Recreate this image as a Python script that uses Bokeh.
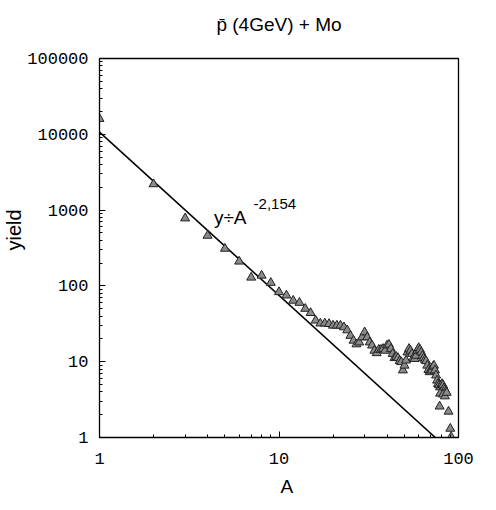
from bokeh.plotting import figure
from bokeh.models import Label, FixedTicker, CustomJSTickFormatter, Range1d, Title
from bokeh.embed import file_html
from bokeh.resources import INLINE

# ---- data ----
mass_A = [1, 2, 3, 4, 5, 6, 7, 8, 9, 10,
          11, 12, 13, 14, 15, 16, 17, 18, 19, 20,
          21, 22, 23, 24, 25, 26, 27, 28, 29, 30,
          31, 32, 33, 34, 35, 36, 37, 38, 39, 40,
          41, 42, 43, 44, 45, 46, 47, 48, 49, 50,
          51, 52, 53, 54, 55, 56, 57, 58, 59, 60,
          61, 62, 63, 64, 65, 66, 67, 68, 69, 70,
          71, 72, 73, 74, 75, 76, 77, 78, 79, 80,
          81, 82, 83, 84, 85, 79, 82, 84, 86,
          78.5, 88, 90, 91]
yields = [16000, 2200, 780, 460, 310, 210, 129, 137, 110, 83,
          75, 64, 60, 50, 44, 35, 32, 32, 31.5, 30,
          30, 30, 28.5, 26, 22, 19, 17, 18, 21, 24.5,
          21, 18, 16.4, 14, 13, 14.4, 14.4, 14.8, 14, 16.4,
          16.8, 14.8, 12.7, 11.2, 11.6, 11.2, 10.2, 9.9, 7.7, 8.9,
          10.4, 13.3, 14.8, 14, 12.7, 11.2, 10.9, 12, 14, 15.2,
          14.4, 13.3, 12, 11.2, 10.6, 10.2, 8.9, 7.8, 7.3, 7.7,
          7.7, 8.6, 8.9, 7.7, 6.6, 5.65, 5.1, 4.9, 4.6, 4.9,
          5.1, 4.9, 4.5, 4.26, 4.0, 3.8, 3.7, 3.5, 3.9,
          2.57, 2.2, 1.31, 1.02]

fit_coeff = 10700.0
fit_exponent = -2.154
fit_label_main = "y÷A"
fit_label_exp = "-2,154"

x_major = [1, 10, 100]
y_major = [1, 10, 100, 1000, 10000, 100000]

title_text = "p\u0304 (4GeV) + Mo"
x_title = "A"
y_title = "yield"

# fit line endpoints (from A=1 to where the fit reaches yield 1)
a_end = (1.0 / fit_coeff) ** (1.0 / fit_exponent)
fit_x = [1.0, a_end]
fit_y = [fit_coeff * a ** fit_exponent for a in fit_x]

W, H = 490, 508
p = figure(width=W, height=H, x_axis_type="log", y_axis_type="log",
           x_range=Range1d(1, 100), y_range=Range1d(1, 100000),
           output_backend="svg", toolbar_location=None)
p.min_border_left = 97
p.min_border_right = W - 458
p.min_border_top = 58
p.min_border_bottom = H - 437
p.grid.visible = False
p.outline_line_color = "black"
p.outline_line_width = 1.3
p.background_fill_color = "white"
p.border_fill_color = "white"

x_minor = [m * 10 ** k for k in range(0, 2) for m in range(2, 10)]
y_minor = [m * 10 ** k for k in range(0, 5) for m in range(2, 10)]
p.xaxis.ticker = FixedTicker(ticks=x_major, minor_ticks=x_minor)
p.yaxis.ticker = FixedTicker(ticks=y_major, minor_ticks=y_minor)
p.xaxis.formatter = CustomJSTickFormatter(code="return tick.toFixed(0);")
p.yaxis.formatter = CustomJSTickFormatter(code="return tick.toFixed(0);")

for ax in (p.xaxis[0], p.yaxis[0]):
    ax.major_tick_in = 6
    ax.major_tick_out = 0
    ax.minor_tick_in = 3
    ax.minor_tick_out = 0
    ax.axis_line_color = "black"
    ax.major_tick_line_color = "black"
    ax.minor_tick_line_color = "black"
    ax.major_label_text_font = "Liberation Mono"
    ax.major_label_text_font_size = "17px"
    ax.major_label_text_color = "black"
p.xaxis.major_label_standoff = 15
p.yaxis.major_label_standoff = 11

p.line(fit_x, fit_y, line_color="black", line_width=1.6)
p.scatter(mass_A, yields, marker="triangle", size=9,
          fill_color="#8a8a8a", line_color="#222222", line_width=1)

p.add_layout(Label(x=4.34, y=798, text=fit_label_main, text_font="Liberation Sans",
                   text_font_size="19px", text_baseline="middle", text_align="left",
                   text_color="black"))
p.add_layout(Label(x=7.22, y=1222, text=fit_label_exp, text_font="Liberation Sans",
                   text_font_size="15px", text_baseline="middle", text_align="left",
                   text_color="black"))

# title: a blank second line lifts it away from the frame
p.title.text = title_text + "\n "
p.title.align = "center"
p.title.standoff = 6
p.title.text_font = "Liberation Sans"
p.title.text_font_size = "19px"
p.title.text_font_style = "normal"
p.title.text_color = "black"

p.add_layout(Title(text=y_title, align="left", offset=187, standoff=0,
                   text_font="Liberation Sans", text_font_size="20px",
                   text_font_style="normal", text_color="black"), "left")
p.add_layout(Title(text=x_title, align="left", offset=181, standoff=14,
                   text_font="Liberation Sans", text_font_size="19px",
                   text_font_style="normal", text_color="black"), "below")

open("out.html", "w").write(file_html(p, INLINE))
